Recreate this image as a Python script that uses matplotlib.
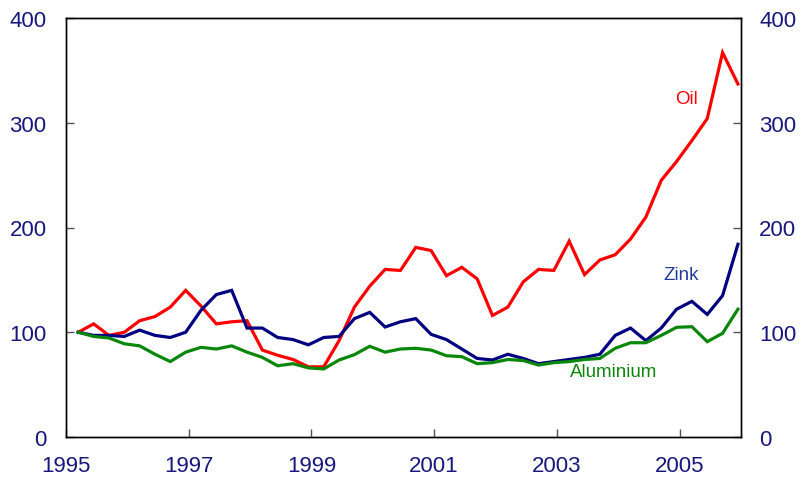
import matplotlib
matplotlib.use("Agg")
import matplotlib.pyplot as plt
import numpy as np

plt.rcParams['font.family'] = ['Liberation Sans', 'DejaVu Sans']

# Quarterly index values (1995 = 100), 44 quarters
x_start = 1995.2
oil = [100, 108, 97, 100, 111, 115, 124, 140, 125, 108, 110, 111,
       83, 78, 74, 67, 67, 92, 124, 144, 160, 159, 181, 178,
       154, 162, 151, 116, 124, 148, 160, 159, 187, 155, 169, 174,
       189, 210, 245, 263, 283, 304, 367, 337]
zink = [100, 97, 97, 96, 102, 97, 95, 100, 121, 136, 140, 104,
        104, 95, 93, 88, 95, 96, 113, 119, 105, 110, 113, 98,
        93, 84, 75, 73.5, 79, 75, 70, 72, 74, 76, 79, 97,
        104, 92, 104, 122, 129.5, 117, 135, 184]
alu = [100, 96, 94.5, 89, 87, 79, 72, 81, 85.6, 84, 87, 81,
       76, 68, 70, 66, 65, 73.5, 78.6, 86.6, 81, 84, 84.7, 83,
       77.6, 76.7, 70, 71, 74, 73, 68.7, 71, 72, 74, 75, 84.7,
       90, 90, 97, 104.7, 105.3, 91, 99, 122]
x = x_start + np.arange(len(oil)) * 0.25

xticks = [1995, 1997, 1999, 2001, 2003, 2005]
yticks = [0, 100, 200, 300, 400]

tick_color = '#17177e'

fig = plt.figure(figsize=(8.01, 4.89), dpi=100)
ax = fig.add_axes([66/801, 51/489, (741-66)/801, (438-19)/489])

ax.plot(x, oil, color='#ff0000', lw=2.3, solid_joinstyle='miter')
ax.plot(x, zink, color='#000080', lw=2.3, solid_joinstyle='miter')
ax.plot(x, alu, color='#0a870a', lw=2.3, solid_joinstyle='miter')

ax.set_xlim(1995, 2006)
ax.set_ylim(0, 400)
ax.set_xticks(xticks)
ax.set_xticklabels([str(t) for t in xticks])
ax.set_yticks(yticks)

for s in ax.spines.values():
    s.set_color('black')
    s.set_linewidth(1.0)

ax.tick_params(axis='x', direction='in', length=6, width=1, color='#555555',
               labelsize=16, labelcolor=tick_color, pad=13)
ax.tick_params(axis='y', direction='in', length=6, width=1, color='#555555',
               labelsize=16, labelcolor=tick_color, pad=14)

ax2 = ax.twinx()
ax2.set_ylim(0, 400)
ax2.set_yticks(yticks)
ax2.tick_params(axis='y', direction='in', length=6, width=1, color='#555555',
                labelsize=16, labelcolor=tick_color, pad=13)
for s in ax2.spines.values():
    s.set_color('black')
    s.set_linewidth(1.0)

ax.text(2005.11, 323, 'Oil', color='#ff0000', fontsize=13.5, ha='center', va='center')
ax.text(2005.03, 155, 'Zink', color='#1f3c9c', fontsize=13.5, ha='center', va='center')
ax.text(2003.93, 63, 'Aluminium', color='#0a870a', fontsize=13.5, ha='center', va='center')

fig.savefig('out.png', dpi=100)
